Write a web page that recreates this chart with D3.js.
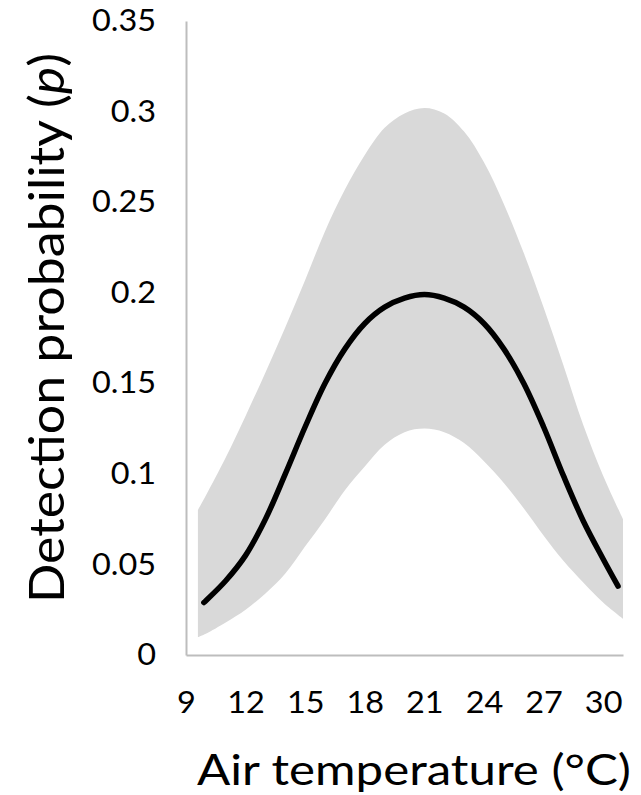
<!DOCTYPE html>
<html>
<head>
<meta charset="utf-8">
<script src="https://cdn.jsdelivr.net/npm/d3@7"></script>
<style>
  html, body { margin: 0; padding: 0; background: #fff; }
  svg { display: block; }
  text { font-family: Lato, "Open Sans", sans-serif; fill: #000; }
</style>
</head>
<body>
<svg id="chart" width="641" height="795"></svg>
<script>
// ---- data ----
const bandTemp = [9.6,10,11,12,13,14,15,16,17,18,19,20,21,22,23,24,25,26,27,28,29,30,31];
const upperCI  = [0.080,0.088,0.109,0.132,0.156,0.181,0.207,0.234,0.257,0.276,0.291,0.299,0.302,0.299,0.289,0.272,0.249,0.222,0.192,0.160,0.127,0.099,0.075];
const lowerCI  = [0.0099,0.0118,0.018,0.025,0.034,0.045,0.060,0.075,0.091,0.104,0.116,0.123,0.125,0.123,0.117,0.107,0.095,0.081,0.066,0.052,0.040,0.029,0.020];
const lineTemp = [9.9,10,11,12,13,14,15,16,17,18,19,20,21,22,23,24,25,26,27,28,29,30,30.75];
const meanP    = [0.029,0.030,0.041,0.055,0.075,0.100,0.126,0.150,0.169,0.183,0.192,0.197,0.199,0.197,0.192,0.183,0.169,0.150,0.126,0.099,0.074,0.053,0.038];
const xTicks = [9,12,15,18,21,24,27,30];
const yTicks = [0,0.05,0.1,0.15,0.2,0.25,0.3,0.35];
const xTitle = "Air temperature (°C)";
const yTitleMain = "Detection probability (";
const yTitleItalic = "p";
const yTitleEnd = ")";

(function () {
// ---- layout ----
const padL = 186, padR = 623, padT = 21, padB = 655;
const stretch = 1.08;

const svg = d3.select("#chart");
const x = d3.scaleLinear().domain([9, 31]).range([padL, padR]);
const y = d3.scaleLinear().domain([0, 0.35]).range([padB, padT]);

// band
const bandData = bandTemp.map((t, i) => ({t, lo: lowerCI[i], hi: upperCI[i]}));
svg.append("path")
  .datum(bandData)
  .attr("fill", "#d9d9d9")
  .attr("d", d3.area().x(d => x(d.t)).y0(d => y(d.lo)).y1(d => y(d.hi)).curve(d3.curveCatmullRom.alpha(0.5)));

// axes
const gx = svg.append("g").attr("transform", `translate(0,${padB})`)
  .call(d3.axisBottom(x).tickValues(xTicks).tickSize(0).tickPadding(37).tickFormat(d3.format("d")));
const gy = svg.append("g").attr("transform", `translate(${padL},0)`)
  .call(d3.axisLeft(y).tickValues(yTicks).tickSize(0).tickPadding(30).tickFormat(d => d === 0 ? "0" : String(+d.toFixed(2))));

[gx, gy].forEach(g => {
  g.select(".domain").attr("stroke", "#bdbdbd").attr("stroke-width", 2);
  g.selectAll("text").attr("font-size", 30).attr("font-family", "Lato, 'Open Sans', sans-serif").attr("fill", "#000");
});
gx.selectAll("text").attr("transform", `scale(${stretch},1)`);
gy.selectAll("text").attr("x", -30 / stretch).attr("transform", `scale(${stretch},1)`);

// mean line
const lineData = lineTemp.map((t, i) => ({t, p: meanP[i]}));
svg.append("path")
  .datum(lineData)
  .attr("fill", "none")
  .attr("stroke", "#000")
  .attr("stroke-width", 5.5)
  .attr("stroke-linecap", "round")
  .attr("stroke-linejoin", "round")
  .attr("d", d3.line().x(d => x(d.t)).y(d => y(d.p)).curve(d3.curveCatmullRom.alpha(0.5)));

// titles
svg.append("text")
  .attr("x", 414)
  .attr("y", 785)
  .attr("text-anchor", "middle")
  .attr("font-size", 43)
  .attr("textLength", 434)
  .attr("lengthAdjust", "spacingAndGlyphs")
  .text(xTitle);

const yt = svg.append("text")
  .attr("transform", "translate(64,328) rotate(-90)")
  .attr("text-anchor", "middle")
  .attr("font-size", 49)
  .attr("textLength", 550)
  .attr("lengthAdjust", "spacingAndGlyphs");
yt.append("tspan").text(yTitleMain);
yt.append("tspan").attr("font-style", "italic").text(yTitleItalic);
yt.append("tspan").text(yTitleEnd);
})();
</script>
</body>
</html>
